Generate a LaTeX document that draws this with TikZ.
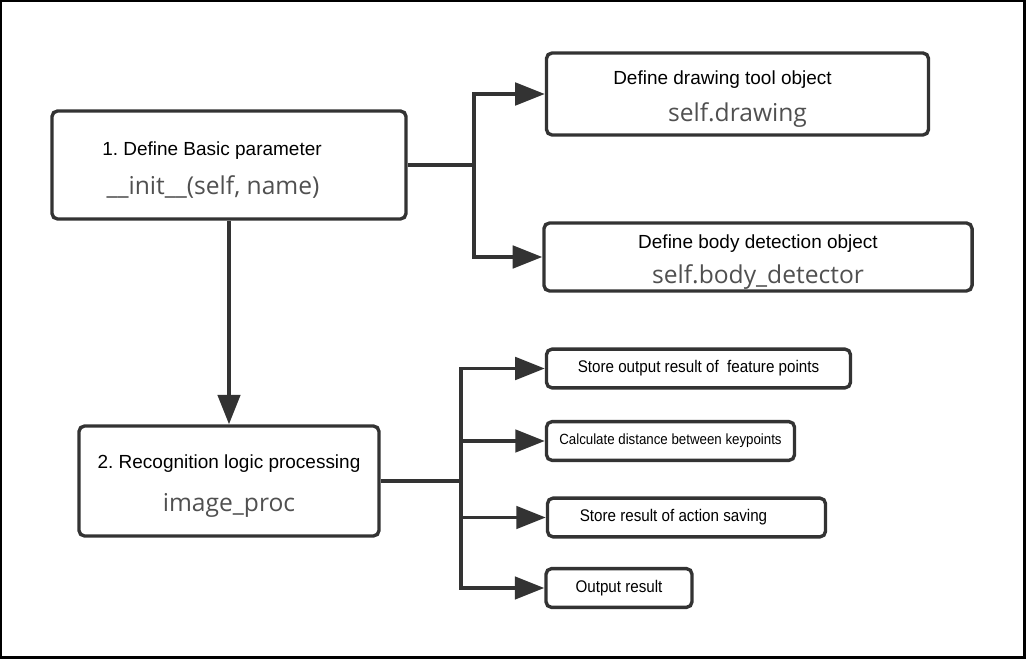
\documentclass[tikz,border=0pt]{standalone}
\usepackage{fontspec}
\setmainfont{Liberation Sans}
\newfontfamily\codefont{Open Sans}
\newfontfamily\narrowfont[FakeStretch=0.9]{Liberation Sans}
\usetikzlibrary{arrows.meta}
\definecolor{linegray}{HTML}{333333}
\definecolor{codegray}{HTML}{505050}
\newcommand{\code}[1]{{\codefont\fontsize{17.5}{16}\selectfont\color{codegray}#1}}
\newcommand{\lift}{\rule{0pt}{17pt}}
\newcommand{\pad}[1]{\rule{#1}{0pt}}
\frenchspacing

\begin{document}
\begin{tikzpicture}[x=0.025cm,y=-0.025cm,
    >={Triangle[length=21pt,width=16pt]},
    box/.style={draw=linegray,line width=2.4pt,rounded corners=4pt,inner sep=0pt,
      align=center,font=\fontsize{13.5}{16}\selectfont},
    small/.style={draw=linegray,line width=2.4pt,rounded corners=4pt,inner sep=0pt,
      font=\narrowfont\fontsize{12}{14}\selectfont},
    conn/.style={draw=linegray,line width=2.4pt}]
    \useasboundingbox (0,0) rectangle (1028,662);
    \draw[line width=1.8pt] (1.2,1.2) rectangle (1024.5,657.5);

    \node[box,minimum width=8.85cm,minimum height=2.7cm] (init) at (229,165)
      {\lift 1. Define Basic parameter\pad{0.85cm}\\[11pt]\code{\_\_init\_\_(self, name)\pad{0.8cm}}};
    \node[box,minimum width=7.5cm,minimum height=2.75cm] (proc) at (229,481)
      {\lift 2. Recognition logic processing\\[14pt]\code{image\_proc}};
    \node[box,minimum width=9.55cm,minimum height=2.05cm] (drawing) at (737.5,94)
      {\lift Define drawing tool object\pad{0.75cm}\\[9pt]\code{self.drawing}};
    \node[box,minimum width=10.7cm,minimum height=1.7cm] (body) at (758,257)
      {\lift Define body detection object\\[8pt]\code{self.body\_detector}};

    \foreach \k/\x/\y/\w/\t in {1/698.5/368.5/7.6cm/{Store output result of\ \ feature points},
        2/670.5/441/6.2cm/{\fontsize{10.5}{12}\selectfont Calculate distance between keypoints},
        3/686.5/517.5/6.95cm/{Store result of action saving\pad{0.65cm}},
        4/619/588/3.65cm/{Output result}}
      \node[small,minimum width=\w,minimum height=0.97cm] (out\k) at (\x,\y) {\t};

    \coordinate (j1) at (474,165);
    \coordinate (j2) at (461,481);
    \draw[conn] (init) -- (j1);
    \draw[conn,->] (j1) |- (drawing.west);
    \draw[conn,->] (j1) |- (body.west);
    \draw[conn,->] (init) -- (proc);
    \draw[conn] (proc) -- (j2);
    \foreach \k in {1,...,4}
      \draw[conn,->] (j2) |- (out\k.west);
\end{tikzpicture}
\end{document}
